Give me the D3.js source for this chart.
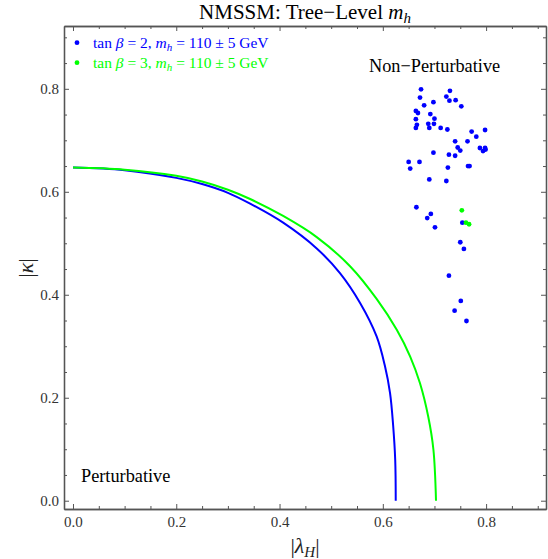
<!DOCTYPE html>
<html>
<head>
<meta charset="utf-8">
<script src="https://cdn.jsdelivr.net/npm/d3@7"></script>
<style>
  body { margin: 0; background: #fff; }
  svg { font-family: "Liberation Serif", "DejaVu Serif", serif; }
</style>
</head>
<body>
<svg class="chart" width="548" height="559"></svg>
<script>
// tick values
var xMajor = [0.0, 0.2, 0.4, 0.6, 0.8];
var yMajor = [0.0, 0.2, 0.4, 0.6, 0.8];
var minorStep = 0.05;

// tree-level boundary curves [lambda, kappa]
var curveTb2 = [[0.0, 0.647], [0.1, 0.642], [0.2, 0.627], [0.25, 0.615], [0.3, 0.598], [0.343, 0.577],
  [0.407, 0.540], [0.472, 0.490], [0.517, 0.442], [0.556, 0.384], [0.588, 0.319], [0.604, 0.262],
  [0.614, 0.209], [0.620, 0.146], [0.624, 0.079], [0.625, 0.0]];
var curveTb3 = [[0.0, 0.647], [0.1, 0.643], [0.2, 0.631], [0.25, 0.620], [0.3, 0.604], [0.343, 0.586],
  [0.407, 0.553], [0.472, 0.512], [0.537, 0.455], [0.588, 0.392], [0.627, 0.332], [0.653, 0.280],
  [0.672, 0.228], [0.688, 0.163], [0.698, 0.099], [0.703, 0.0]];

// scan points
var pointsTb2 = [[0.674, 0.799], [0.730, 0.796], [0.672, 0.783], [0.723, 0.785], [0.729, 0.777], [0.741, 0.778],
  [0.698, 0.774], [0.680, 0.768], [0.752, 0.766], [0.664, 0.757], [0.668, 0.753], [0.692, 0.751],
  [0.664, 0.741], [0.700, 0.742], [0.666, 0.730], [0.664, 0.724], [0.688, 0.732], [0.699, 0.732],
  [0.690, 0.724], [0.712, 0.724], [0.725, 0.721], [0.772, 0.717], [0.798, 0.720], [0.781, 0.707],
  [0.740, 0.698], [0.764, 0.698], [0.745, 0.686], [0.750, 0.680], [0.788, 0.685], [0.798, 0.685],
  [0.794, 0.679], [0.799, 0.682], [0.698, 0.676], [0.728, 0.672], [0.740, 0.670], [0.650, 0.658],
  [0.671, 0.658], [0.653, 0.645], [0.726, 0.647], [0.765, 0.650], [0.768, 0.650], [0.690, 0.624],
  [0.723, 0.621], [0.665, 0.570], [0.693, 0.557], [0.686, 0.549], [0.701, 0.531], [0.754, 0.540],
  [0.750, 0.502], [0.757, 0.489], [0.728, 0.437], [0.751, 0.388], [0.739, 0.369], [0.762, 0.349]];
var pointsTb3 = [[0.753, 0.564], [0.761, 0.540], [0.767, 0.537]];

var legendLabels = ["tan ", "β", " = 2, ", "m", "h", " = 110 ± 5 GeV"];
var legendLabels3 = ["tan ", "β", " = 3, ", "m", "h", " = 110 ± 5 GeV"];

var svg = d3.select("svg.chart");
var blue = "#0000ff", green = "#00ff00", frame = "#555";

var x = d3.scaleLinear().domain([-0.0174, 0.916]).range([64, 546]);
var y = d3.scaleLinear().domain([-0.0161, 0.922]).range([509, 26]);

var minor = d3.range(0, 0.92, minorStep).filter(function(v) {
  return Math.abs(Math.round(v * 5) - v * 5) > 1e-6;
});

var line = d3.line()
    .x(function(d) { return x(d[0]); })
    .y(function(d) { return y(d[1]); })
    .curve(d3.curveCatmullRom.alpha(0.5));

// curves
svg.append("path").datum(curveTb2)
    .attr("fill", "none").attr("stroke", blue).attr("stroke-width", 2)
    .attr("d", line);
svg.append("path").datum(curveTb3)
    .attr("fill", "none").attr("stroke", green).attr("stroke-width", 2)
    .attr("d", line);

// points
svg.append("g").selectAll("circle").data(pointsTb2).enter().append("circle")
    .attr("cx", function(d) { return x(d[0]); })
    .attr("cy", function(d) { return y(d[1]); })
    .attr("r", 2.4).attr("fill", blue);
svg.append("g").selectAll("circle").data(pointsTb3).enter().append("circle")
    .attr("cx", function(d) { return x(d[0]); })
    .attr("cy", function(d) { return y(d[1]); })
    .attr("r", 2.4).attr("fill", green);

// frame + axes
function styleAxis(g) {
  g.select(".domain").attr("stroke", frame).attr("stroke-width", 1.3);
  g.selectAll(".tick line").attr("stroke", frame);
  g.selectAll("text").attr("fill", "#333").attr("font-size", 15)
    .attr("font-family", "Liberation Serif, serif");
}
svg.append("g").attr("transform", "translate(0,509)")
    .call(d3.axisBottom(x).tickValues(xMajor).tickFormat(d3.format(".1f")).tickSize(-5).tickPadding(7).tickSizeOuter(0))
    .call(styleAxis);
svg.append("g").attr("transform", "translate(64,0)")
    .call(d3.axisLeft(y).tickValues(yMajor).tickFormat(d3.format(".1f")).tickSize(-5).tickPadding(5).tickSizeOuter(0))
    .call(styleAxis);
svg.append("g").attr("transform", "translate(0,26)")
    .call(d3.axisTop(x).tickValues(xMajor).tickFormat("").tickSize(-5).tickSizeOuter(0))
    .call(styleAxis);
svg.append("g").attr("transform", "translate(546,0)")
    .call(d3.axisRight(y).tickValues(yMajor).tickFormat("").tickSize(-5).tickSizeOuter(0))
    .call(styleAxis);

// minor ticks
svg.append("g").attr("transform", "translate(0,509)")
    .call(d3.axisBottom(x).tickValues(minor).tickFormat("").tickSize(-3).tickSizeOuter(0)).call(styleAxis);
svg.append("g").attr("transform", "translate(0,26)")
    .call(d3.axisTop(x).tickValues(minor).tickFormat("").tickSize(-3).tickSizeOuter(0)).call(styleAxis);
svg.append("g").attr("transform", "translate(64,0)")
    .call(d3.axisLeft(y).tickValues(minor).tickFormat("").tickSize(-3).tickSizeOuter(0)).call(styleAxis);
svg.append("g").attr("transform", "translate(546,0)")
    .call(d3.axisRight(y).tickValues(minor).tickFormat("").tickSize(-3).tickSizeOuter(0)).call(styleAxis);

// title
var title = svg.append("text").attr("x", 305).attr("y", 19).attr("text-anchor", "middle")
    .attr("font-size", 21).attr("fill", "#000");
title.append("tspan").text("NMSSM: Tree\u2212Level ");
title.append("tspan").attr("font-style", "italic").text("m");
title.append("tspan").attr("font-style", "italic").attr("font-size", 15).attr("dy", 4).text("h");

// axis labels
var xl = svg.append("text").attr("x", 305).attr("y", 553).attr("text-anchor", "middle")
    .attr("font-size", 22).attr("fill", "#222");
xl.append("tspan").text("|");
xl.append("tspan").attr("font-style", "italic").text("\u03bb");
xl.append("tspan").attr("font-style", "italic").attr("font-size", 15).attr("dy", 4).text("H");
xl.append("tspan").attr("dy", -4).text("|");

var yl = svg.append("text").attr("transform", "translate(33,268) rotate(-90)").attr("text-anchor", "middle")
    .attr("font-size", 22).attr("fill", "#222");
yl.append("tspan").text("|");
yl.append("tspan").attr("font-style", "italic").text("\u03ba");
yl.append("tspan").text("|");

// legend
function legendRow(yy, color, parts) {
  svg.append("circle").attr("cx", 77).attr("cy", yy).attr("r", 2.4).attr("fill", color);
  var t = svg.append("text").attr("x", 93).attr("y", yy + 5).attr("font-size", 15.5).attr("fill", color);
  t.append("tspan").text(parts[0]);
  t.append("tspan").attr("font-style", "italic").text(parts[1]);
  t.append("tspan").text(parts[2]);
  t.append("tspan").attr("font-style", "italic").text(parts[3]);
  t.append("tspan").attr("font-style", "italic").attr("font-size", 11).attr("dy", 3).text(parts[4]);
  t.append("tspan").attr("dy", -3).text(parts[5]);
}
legendRow(42.7, blue, legendLabels);
legendRow(62.7, green, legendLabels3);

// region labels
svg.append("text").attr("x", 369).attr("y", 72).attr("font-size", 18.3).attr("fill", "#000").text("Non\u2212Perturbative");
svg.append("text").attr("x", 81).attr("y", 482).attr("font-size", 18.3).attr("fill", "#000").text("Perturbative");
</script>
</body>
</html>
